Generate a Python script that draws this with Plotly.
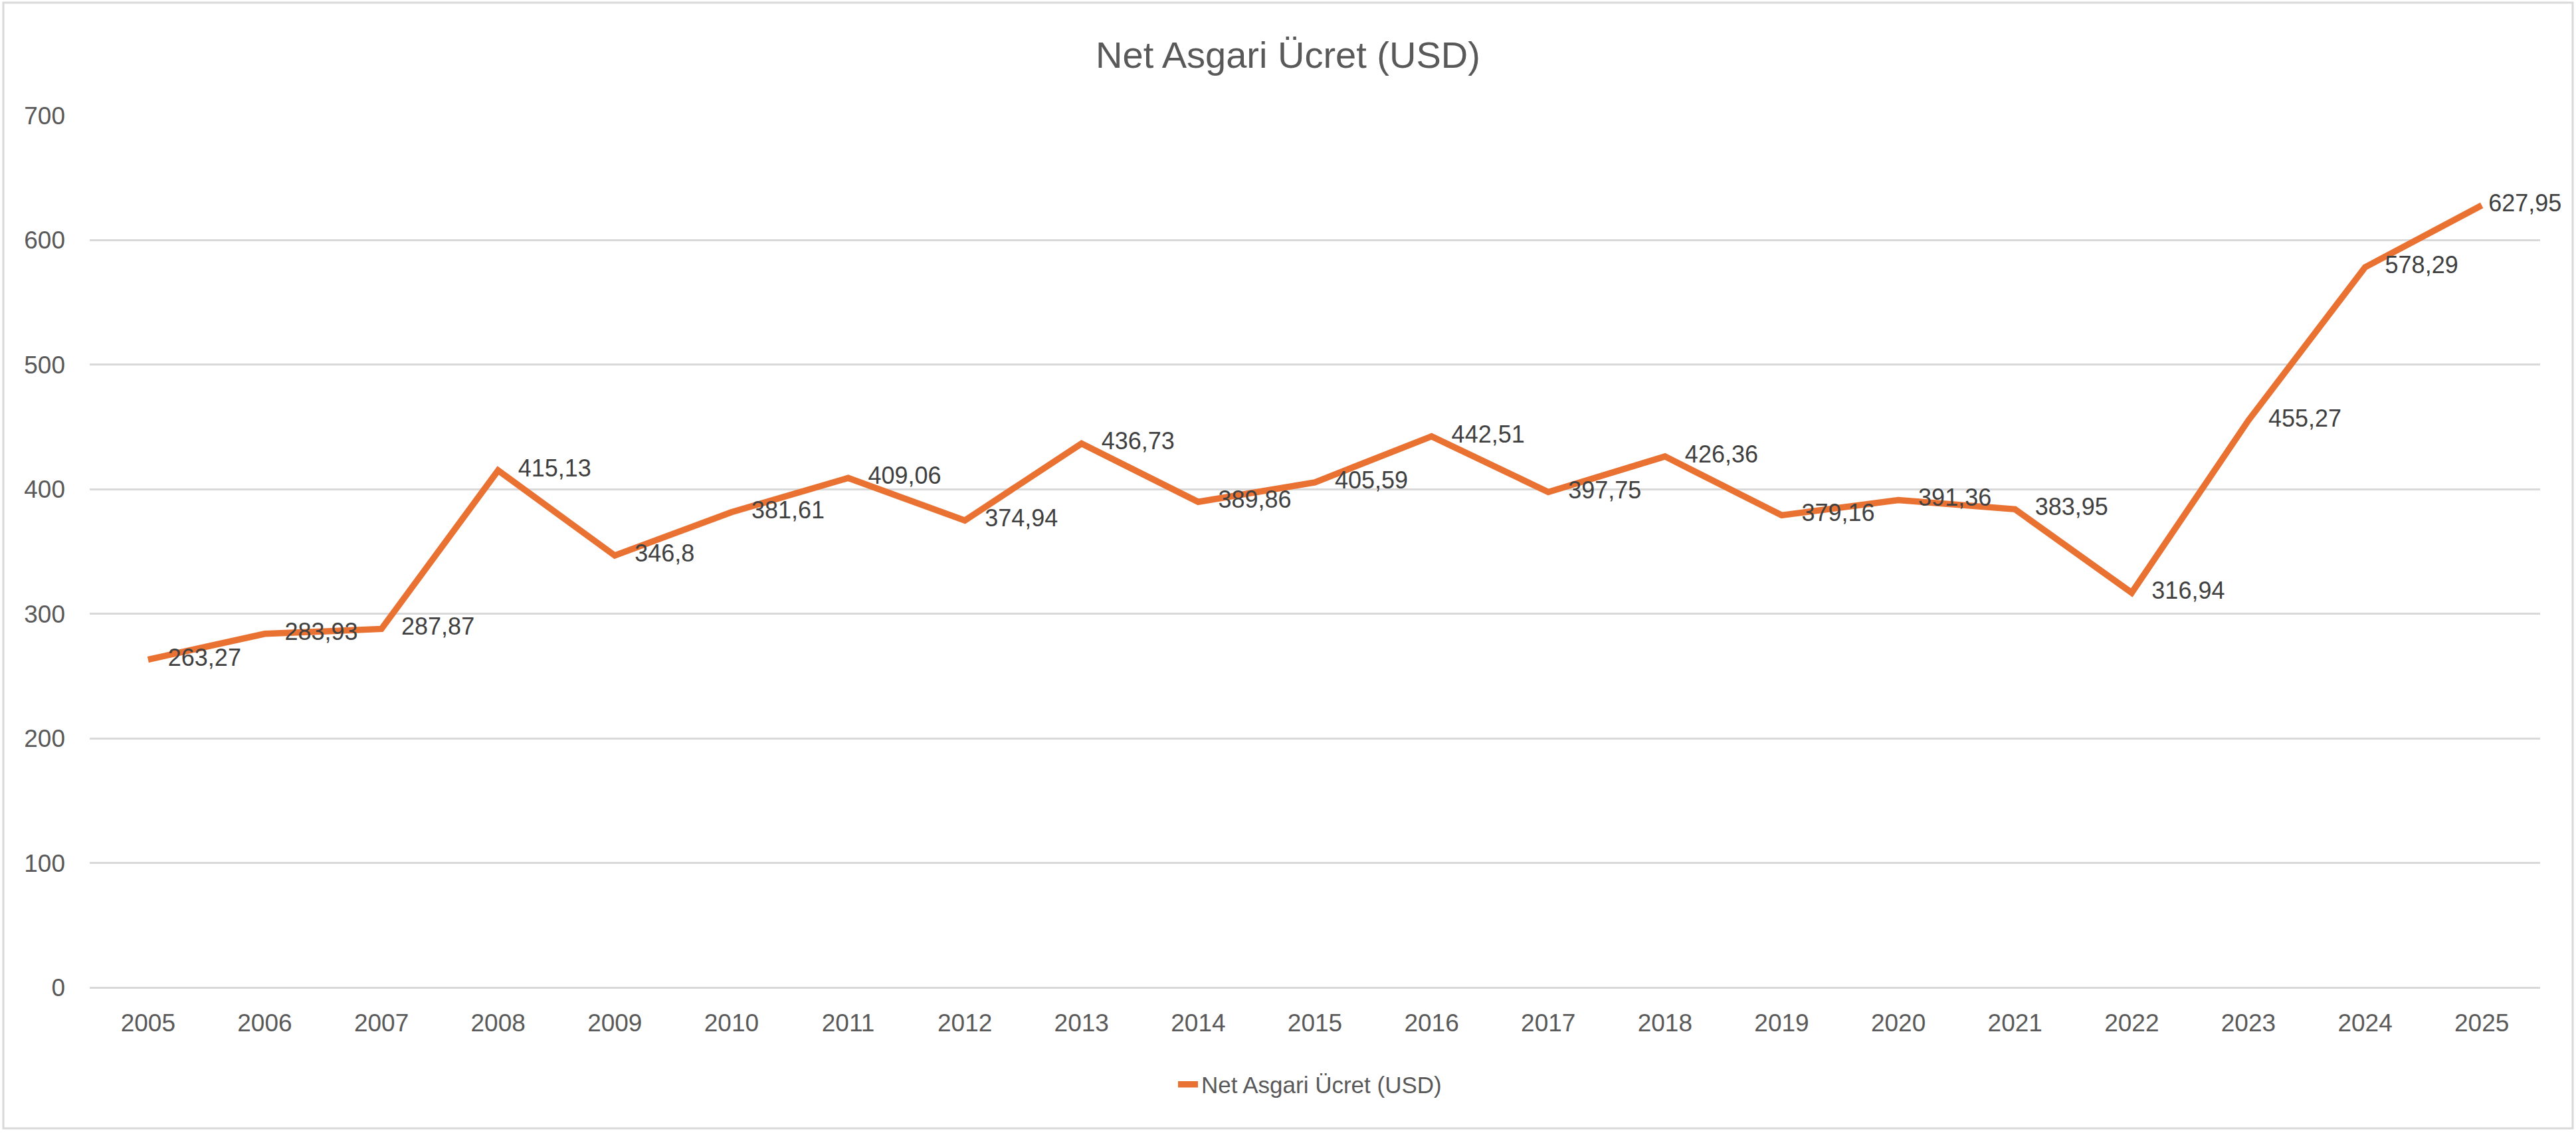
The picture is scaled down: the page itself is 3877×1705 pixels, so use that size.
import plotly.graph_objects as go

years = ["2005", "2006", "2007", "2008", "2009", "2010", "2011", "2012", "2013", "2014",
         "2015", "2016", "2017", "2018", "2019", "2020", "2021", "2022", "2023", "2024", "2025"]
values = [263.27, 283.93, 287.87, 415.13, 346.8, 381.61, 409.06, 374.94, 436.73, 389.86,
          405.59, 442.51, 397.75, 426.36, 379.16, 391.36, 383.95, 316.94, 455.27, 578.29, 627.95]
y_ticks = [0, 100, 200, 300, 400, 500, 600, 700]
series_name = "Net Asgari Ücret (USD)"
title_text = "Net Asgari Ücret (USD)"

NB = "\u00a0"
labels = [str(v).replace(".", ",") for v in values]
label_text = [(NB if i == len(labels) - 1 else NB * 3) + t for i, t in enumerate(labels)]

W, H = 3877, 1705
ML, MR, MT, MB = 135, 54, 174, 219
PW = W - ML - MR
PH = H - MT - MB

ORANGE = "#E97132"
GREY_TXT = "#595959"
LABEL_TXT = "#404040"
GRID = "#D9D9D9"
FONT = "Liberation Sans, Arial, sans-serif"

fig = go.Figure()
fig.add_trace(go.Scatter(
    x=years, y=values, mode="lines", name=series_name,
    line=dict(color=ORANGE, width=9.5),
    cliponaxis=False,
))
fig.add_trace(go.Scatter(
    x=years, y=values, mode="text", text=label_text, textposition="middle right",
    textfont=dict(family=FONT, size=36, color=LABEL_TXT),
    showlegend=False, hoverinfo="skip", cliponaxis=False,
))

fig.update_layout(
    width=W, height=H,
    margin=dict(l=ML, r=MR, t=MT, b=MB),
    paper_bgcolor="white", plot_bgcolor="white",
    font=dict(family=FONT, color=GREY_TXT),
    title=dict(text=title_text, x=0.5, xref="container", xanchor="center",
               y=1 - 82 / H, yref="container", yanchor="middle",
               font=dict(family=FONT, size=56, color=GREY_TXT)),
    showlegend=True,
    legend=dict(orientation="h", x=(1768 - ML) / PW, xanchor="left",
                y=-(1632 - (H - MB)) / PH, yanchor="middle",
                font=dict(family=FONT, size=35, color=GREY_TXT),
                bgcolor="rgba(0,0,0,0)"),
    xaxis=dict(type="category", range=[-0.5, len(years) - 0.5],
               showgrid=False, showline=False, zeroline=False,
               ticks="", ticklabelstandoff=28,
               tickfont=dict(family=FONT, size=37, color=GREY_TXT)),
    yaxis=dict(range=[0, 700], tickvals=y_ticks, showgrid=True,
               gridcolor=GRID, gridwidth=3, zeroline=True, zerolinecolor=GRID,
               zerolinewidth=3, showline=False, ticks="", ticklabelstandoff=36,
               tickfont=dict(family=FONT, size=37, color=GREY_TXT)),
    shapes=[dict(type="rect", xref="paper", yref="paper",
                 x0=(5 - ML) / PW, x1=(3872 - ML) / PW,
                 y0=-(1698 - (H - MB)) / PH, y1=((H - MB) - 4) / PH,
                 line=dict(color=GRID, width=3), fillcolor="rgba(0,0,0,0)",
                 layer="below")],
)

fig.write_html(
    "out.html",
    config={"displayModeBar": False},
    post_script="document.body.style.margin='0';document.documentElement.style.overflow='hidden';document.body.style.overflow='hidden';",
)
